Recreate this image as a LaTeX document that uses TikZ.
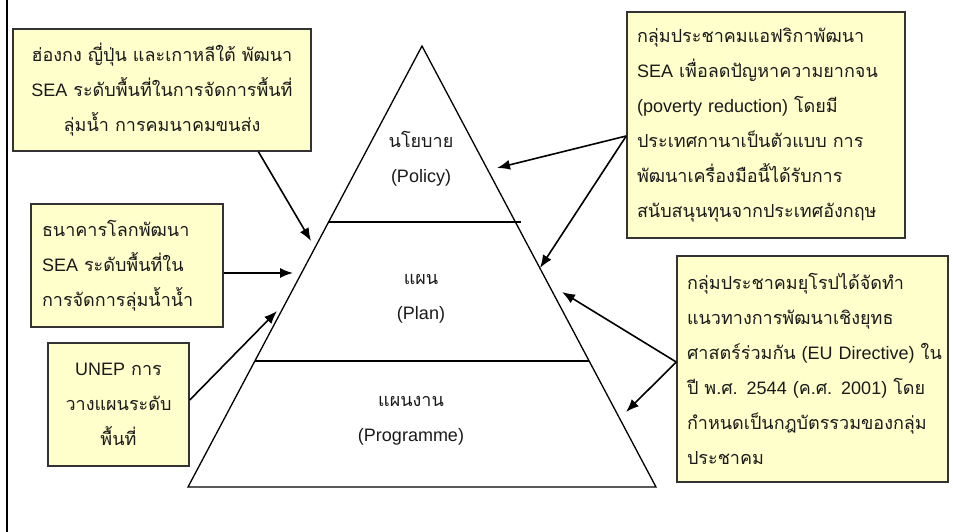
\documentclass[tikz,border=0pt]{standalone}
\usepackage{fontspec}
\setmainfont{Liberation Sans}
\newfontfamily\thaifont[Script=Thai]{Loma}
\newcommand{\T}[1]{{\thaifont #1}}
\usetikzlibrary{arrows.meta,calc}
\definecolor{boxfill}{HTML}{FFFFCC}
\definecolor{boxline}{HTML}{333333}
\definecolor{txt}{HTML}{1A1A1A}
\tikzset{
  infobox/.style={draw=boxline, line width=1.5pt, fill=boxfill, rectangle,
    inner xsep=12pt, inner ysep=0pt, text=txt,
    font=\fontsize{18}{35}\selectfont},
  pyrtext/.style={text=txt, font=\fontsize{18}{35}\selectfont, align=center, inner sep=0pt},
  arr/.style={draw=black, line width=1.6pt, -{Latex[length=13pt,width=10pt]}},
  pyr/.style={draw=black, line width=1.3pt},
}
\begin{document}
\begin{tikzpicture}[x=1pt,y=-1pt]
\useasboundingbox (0,0) rectangle (953,532);
\fill[white] (0,0) rectangle (953,532);
% left border fragment
\draw[line width=2.5pt] (7,0) -- (7,532);

% pyramid
\coordinate (apex) at (422,46);
\coordinate (bl) at (188,487);
\coordinate (br) at (656,487);
\draw[pyr] (apex) -- (bl) -- (br) -- cycle;
\coordinate (d1l) at (327.5,222);
\coordinate (d1r) at (521,222);
\coordinate (d2l) at (255,361);
\coordinate (d2r) at (589,361);
\draw[pyr] (d1l) -- (d1r);
\draw[pyr] (d2l) -- (d2r);

\node[pyrtext] (policy) at (421,159) {\T{นโยบาย}\\(Policy)};
\node[pyrtext] (plan) at (421,299) {\T{แผน}\\(Plan)};
\node[pyrtext] (prog) at (411,421) {\T{แผนงาน}\\(Programme)};

% boxes
\node[infobox, minimum width=298pt, minimum height=122pt, text width=274pt, align=center]
  (b1) at (162,90) {\mbox{\T{ฮ่องกง ญี่ปุ่น และเกาหลีใต้ พัฒนา}}\\\mbox{SEA \T{ระดับพื้นที่ในการจัดการพื้นที่}}\\\T{ลุ่มน้ำ การคมนาคมขนส่ง}};
\node[infobox, minimum width=192pt, minimum height=123pt, text width=170pt, align=left, inner xsep=11pt]
  (b2) at (127,265.5) {\T{ธนาคารโลกพัฒนา}\\SEA \T{ระดับพื้นที่ใน}\\\mbox{\T{การจัดการลุ่มน้ำน้ำ}}};
\node[infobox, minimum width=141pt, minimum height=123pt, text width=117pt, align=center]
  (b3) at (118.5,404.5) {UNEP \T{การ}\\\mbox{\T{วางแผนระดับ}}\\\T{พื้นที่}};
\node[infobox, minimum width=278pt, minimum height=226pt, text width=258pt, align=left, inner xsep=10pt]
  (b4) at (766,125) {\mbox{\T{กลุ่มประชาคมแอฟริกาพัฒนา}}\\\mbox{SEA \T{เพื่อลดปัญหาความยากจน}}\\\mbox{(poverty reduction) \T{โดยมี}}\\\mbox{\T{ประเทศกานาเป็นตัวแบบ การ}}\\\mbox{\T{พัฒนาเครื่องมือนี้ได้รับการ}}\\\mbox{\T{สนับสนุนทุนจากประเทศอังกฤษ}}};
\node[infobox, minimum width=271pt, minimum height=226pt, text width=251pt, align=left, inner xsep=10pt]
  (b5) at (812.5,369) {\mbox{\T{กลุ่มประชาคมยุโรปได้จัดทำ}}\\\mbox{\T{แนวทางการพัฒนาเชิงยุทธ}}\\\mbox{\T{ศาสตร์ร่วมกัน} (EU Directive) \T{ใน}}\\\mbox{\T{ปี พ.ศ.} 2544 (\T{ค.ศ.} 2001) \T{โดย}}\\\mbox{\T{กำหนดเป็นกฎบัตรรวมของกลุ่ม}}\\\T{ประชาคม}};

% arrow tips
\coordinate (t1) at (311,241);
\coordinate (t2) at (293,273);
\coordinate (t3) at (277,311);
\coordinate (t4a) at (497,168);
\coordinate (t4b) at (540,268);
\coordinate (t5a) at (562,292);
\coordinate (t5b) at (626,412);

\draw[arr] ($(b1.south west)!0.822!(b1.south east)$) -- (t1);
\draw[arr] ($(b2.east)+(0,7.5)$) -- (t2);
\draw[arr] ($(b3.east)+(0,-4.5)$) -- (t3);
\draw[arr] ($(b4.west)+(0,11)$) -- (t4a);
\draw[arr] ($(b4.west)+(0,11)$) -- (t4b);
\draw[arr] ($(b5.west)+(0,-7)$) -- (t5a);
\draw[arr] ($(b5.west)+(0,-7)$) -- (t5b);
\end{tikzpicture}
\end{document}
